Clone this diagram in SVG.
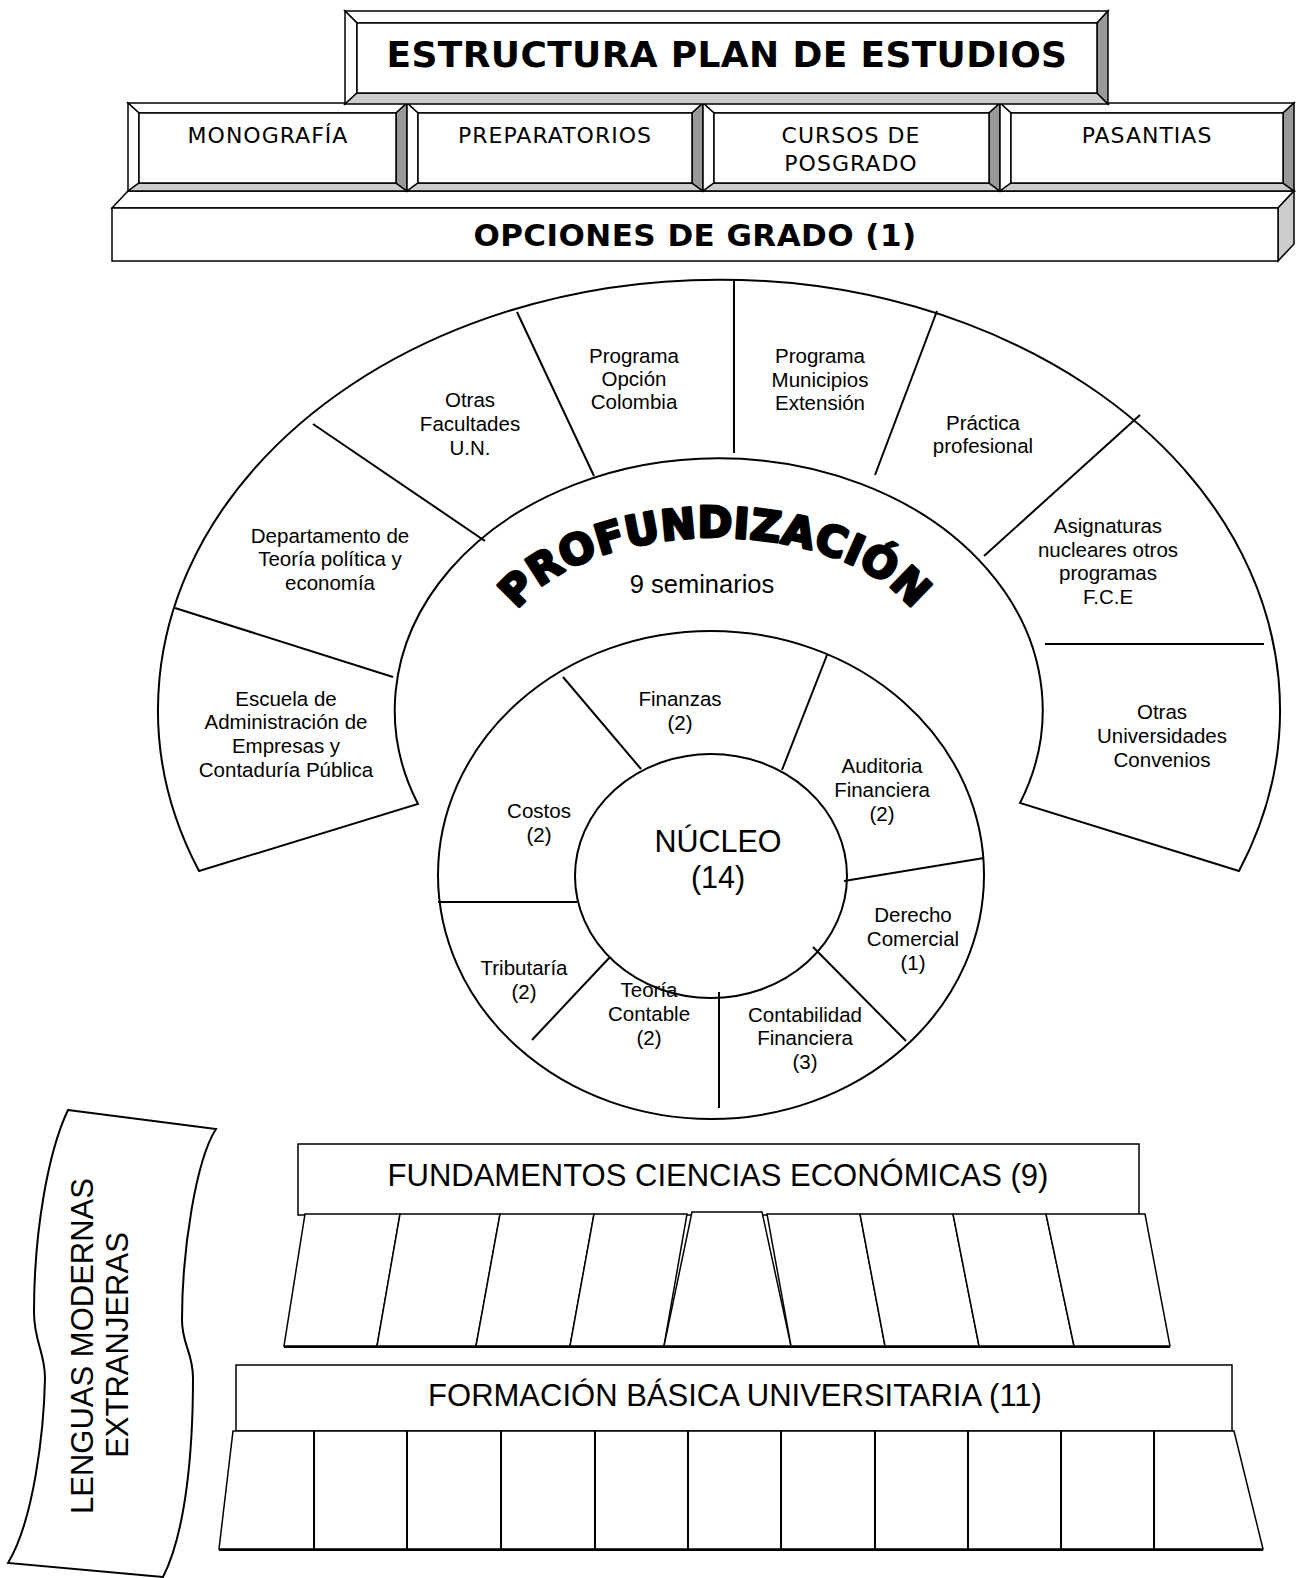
<svg xmlns="http://www.w3.org/2000/svg" width="1296" height="1578" viewBox="0 0 1296 1578">
<style>
.ln{fill:none;stroke:#000;stroke-width:2}
.sh{fill:#fff;stroke:#000;stroke-width:2}
.bv{stroke:#000;stroke-width:1.5;stroke-linejoin:miter}
.bw{fill:#fff}
.bl{fill:#cccccc}
.bd{fill:#999999}
.a{font-family:"Liberation Sans",Arial,sans-serif;font-size:20.5px;text-anchor:middle;fill:#000}
.v{font-family:"DejaVu Sans",Verdana,sans-serif;font-size:22px;letter-spacing:1px;text-anchor:middle;fill:#000}
.vb{font-family:"DejaVu Sans",Verdana,sans-serif;font-weight:bold;text-anchor:middle;fill:#000}
.big{font-family:"Liberation Sans",Arial,sans-serif;font-size:31px;text-anchor:middle;fill:#000}
.pil{fill:#fff;stroke:#000;stroke-width:1.5}
</style>
<defs>
<path id="arcP" d="M 516 612 A 214 118 0 0 1 914 612"/>
</defs>
<rect width="1296" height="1578" fill="#fff"/>

<!-- Opciones de grado -->
<g id="opciones">
<polygon class="bv bw" points="112,208 128,191 1294,191 1278,208"/>
<polygon class="bv bl" points="1278,208 1294,191 1294,244 1278,261"/>
<rect class="bv bw" x="112" y="208" width="1166" height="53"/>
<text class="vb" x="695" y="246" font-size="31" letter-spacing="0.45">OPCIONES DE GRADO (1)</text>
</g>

<g id="monografia">
<polygon class="bv bw" points="128,103 407,103 396,113 139,113"/>
<polygon class="bv bw" points="128,103 139,113 139,183 128,191"/>
<polygon class="bv bl" points="128,191 139,183 396,183 407,191"/>
<polygon class="bv bd" points="407,103 407,191 396,183 396,113"/>
<rect class="bv bw" x="139" y="113" width="257" height="70"/>
<text class="v" x="268" y="143">MONOGRAFÍA</text>
</g>
<g id="preparatorios">
<polygon class="bv bw" points="407,103 703,103 692,113 418,113"/>
<polygon class="bv bw" points="407,103 418,113 418,183 407,191"/>
<polygon class="bv bl" points="407,191 418,183 692,183 703,191"/>
<polygon class="bv bd" points="703,103 703,191 692,183 692,113"/>
<rect class="bv bw" x="418" y="113" width="274" height="70"/>
<text class="v" x="555" y="143">PREPARATORIOS</text>
</g>
<g id="cursos">
<polygon class="bv bw" points="703,103 1000,103 989,113 714,113"/>
<polygon class="bv bw" points="703,103 714,113 714,183 703,191"/>
<polygon class="bv bl" points="703,191 714,183 989,183 1000,191"/>
<polygon class="bv bd" points="1000,103 1000,191 989,183 989,113"/>
<rect class="bv bw" x="714" y="113" width="275" height="70"/>
<text class="v" x="851" y="143">CURSOS DE</text>
<text class="v" x="851" y="171">POSGRADO</text>
</g>
<g id="pasantias">
<polygon class="bv bw" points="1000,103 1294,103 1283,113 1011,113"/>
<polygon class="bv bw" points="1000,103 1011,113 1011,183 1000,191"/>
<polygon class="bv bl" points="1000,191 1011,183 1283,183 1294,191"/>
<polygon class="bv bd" points="1294,103 1294,191 1283,183 1283,113"/>
<rect class="bv bw" x="1011" y="113" width="272" height="70"/>
<text class="v" x="1147" y="143">PASANTIAS</text>
</g>

<g id="titulo">
<polygon class="bv bw" points="345,11 1108,11 1097,23 357,23"/>
<polygon class="bv bw" points="345,11 357,23 357,93 345,104"/>
<polygon class="bv bl" points="345,104 357,93 1097,93 1108,104"/>
<polygon class="bv bd" points="1108,11 1108,104 1097,93 1097,23"/>
<rect class="bv bw" x="357" y="23" width="740" height="70"/>
<text class="vb" x="727" y="67" font-size="36" letter-spacing="0.35">ESTRUCTURA PLAN DE ESTUDIOS</text>
</g>

<!-- Profundización ring -->
<g id="anillo-opciones">
<path class="sh" d="M 199 871 A 561 430 0 1 1 1239 871 L 1020 803 A 324 252 0 1 0 418 804 Z"/>
</g>

<g id="seminarios">
<ellipse class="sh" cx="711" cy="875" rx="273" ry="244"/>
</g>
<g id="nucleo">
<ellipse class="sh" cx="711" cy="876" rx="136" ry="122"/>
</g>

<g id="connectors">
<line class="ln" x1="175" y1="608" x2="393" y2="677"/>
<line class="ln" x1="313" y1="424" x2="485" y2="541"/>
<line class="ln" x1="517" y1="312" x2="594" y2="476"/>
<line class="ln" x1="734" y1="281" x2="734" y2="453"/>
<line class="ln" x1="937" y1="311" x2="875" y2="475"/>
<line class="ln" x1="1140" y1="415" x2="984" y2="556"/>
<line class="ln" x1="1045" y1="644" x2="1264" y2="644"/>
<line class="ln" x1="563" y1="677" x2="641" y2="769"/>
<line class="ln" x1="827" y1="655" x2="782" y2="770"/>
<line class="ln" x1="984" y1="858" x2="844" y2="881"/>
<line class="ln" x1="813" y1="947" x2="906" y2="1041"/>
<line class="ln" x1="719" y1="992" x2="719" y2="1108"/>
<line class="ln" x1="610" y1="957" x2="532" y2="1040"/>
<line class="ln" x1="438" y1="902" x2="577" y2="902"/>
</g>

<g id="labels-opciones">
<text class="a"><tspan x="286" y="706">Escuela de</tspan><tspan x="286" y="729">Administración de</tspan><tspan x="286" y="753">Empresas y</tspan><tspan x="286" y="777">Contaduría Pública</tspan></text>
<text class="a"><tspan x="330" y="543">Departamento de</tspan><tspan x="330" y="566">Teoría política y</tspan><tspan x="330" y="590">economía</tspan></text>
<text class="a"><tspan x="470" y="407">Otras</tspan><tspan x="470" y="431">Facultades</tspan><tspan x="470" y="455">U.N.</tspan></text>
<text class="a"><tspan x="634" y="363">Programa</tspan><tspan x="634" y="386">Opción</tspan><tspan x="634" y="409">Colombia</tspan></text>
<text class="a"><tspan x="820" y="363">Programa</tspan><tspan x="820" y="387">Municipios</tspan><tspan x="820" y="410">Extensión</tspan></text>
<text class="a"><tspan x="983" y="430">Práctica</tspan><tspan x="983" y="453">profesional</tspan></text>
<text class="a"><tspan x="1108" y="533">Asignaturas</tspan><tspan x="1108" y="557">nucleares otros</tspan><tspan x="1108" y="580">programas</tspan><tspan x="1108" y="604">F.C.E</tspan></text>
<text class="a"><tspan x="1162" y="719">Otras</tspan><tspan x="1162" y="743">Universidades</tspan><tspan x="1162" y="767">Convenios</tspan></text>
</g>

<g id="profundizacion">
<text class="vb" style="font-size:42px" letter-spacing="0.5" stroke="#000" stroke-width="2.8" stroke-linejoin="round"><textPath href="#arcP" startOffset="50%">PROFUNDIZACIÓN</textPath></text>
<text class="a" x="702" y="593" style="font-size:25.5px">9 seminarios</text>
</g>

<g id="labels-seminarios">
<text class="a"><tspan x="680" y="706">Finanzas</tspan><tspan x="680" y="730">(2)</tspan></text>
<text class="a"><tspan x="882" y="773">Auditoria</tspan><tspan x="882" y="797">Financiera</tspan><tspan x="882" y="821">(2)</tspan></text>
<text class="a"><tspan x="913" y="922">Derecho</tspan><tspan x="913" y="946">Comercial</tspan><tspan x="913" y="970">(1)</tspan></text>
<text class="a"><tspan x="805" y="1022">Contabilidad</tspan><tspan x="805" y="1045">Financiera</tspan><tspan x="805" y="1069">(3)</tspan></text>
<text class="a"><tspan x="649" y="997">Teoría</tspan><tspan x="649" y="1021">Contable</tspan><tspan x="649" y="1045">(2)</tspan></text>
<text class="a"><tspan x="524" y="975">Tributaría</tspan><tspan x="524" y="999">(2)</tspan></text>
<text class="a"><tspan x="539" y="818">Costos</tspan><tspan x="539" y="842">(2)</tspan></text>
<text class="a" style="font-size:30.5px"><tspan x="718" y="852">NÚCLEO</tspan><tspan x="718" y="888">(14)</tspan></text>
</g>

<!-- Lenguas -->
<g id="lenguas">
<path class="sh" d="M 68 1110 L 216 1129 C 196 1160 182 1250 182 1320 C 182 1345 193 1352 193 1378 C 193 1450 186 1532 163 1577 L 8 1563 C 34 1520 44 1430 45 1378 C 45 1352 34 1342 34 1312 C 34 1232 48 1152 68 1110 Z"/>
<text class="big" transform="translate(93,1346) rotate(-90)">LENGUAS MODERNAS</text>
<text class="big" transform="translate(128,1345) rotate(-90)">EXTRANJERAS</text>
</g>

<!-- Fundamentos -->
<g id="fundamentos">
<rect class="pil" x="298" y="1144" width="841" height="71"/>
<text class="big" x="718" y="1186">FUNDAMENTOS CIENCIAS ECONÓMICAS (9)</text>
<polygon class="pil" points="305,1214 400,1214 377,1346 284,1346"/>
<polygon class="pil" points="400,1214 500,1214 476,1346 377,1346"/>
<polygon class="pil" points="500,1214 594,1214 570,1346 476,1346"/>
<polygon class="pil" points="594,1214 687,1214 664,1346 570,1346"/>
<polygon class="pil" points="692,1212 762,1212 791,1346 664,1346"/>
<polygon class="pil" points="767,1214 860,1214 885,1346 791,1346"/>
<polygon class="pil" points="860,1214 953,1214 979,1346 885,1346"/>
<polygon class="pil" points="953,1214 1046,1214 1074,1346 979,1346"/>
<polygon class="pil" points="1046,1214 1145,1214 1170,1346 1074,1346"/>
<line class="ln" x1="284" y1="1347" x2="1170" y2="1347"/>
</g>

<!-- Formacion basica -->
<g id="formacion">
<rect class="pil" x="236" y="1365" width="996" height="66"/>
<text class="big" x="735" y="1406">FORMACIÓN BÁSICA UNIVERSITARIA (11)</text>
<polygon class="pil" points="233,1431 1234,1431 1263,1549 219,1549"/>
<g class="ln" stroke-width="1.5">
<line x1="314" y1="1431" x2="314" y2="1549"/>
<line x1="407" y1="1431" x2="407" y2="1549"/>
<line x1="501" y1="1431" x2="501" y2="1549"/>
<line x1="595" y1="1431" x2="595" y2="1549"/>
<line x1="688" y1="1431" x2="688" y2="1549"/>
<line x1="781" y1="1431" x2="781" y2="1549"/>
<line x1="875" y1="1431" x2="875" y2="1549"/>
<line x1="968" y1="1431" x2="968" y2="1549"/>
<line x1="1061" y1="1431" x2="1061" y2="1549"/>
<line x1="1154" y1="1431" x2="1154" y2="1549"/>
</g>
<line class="ln" x1="219" y1="1550" x2="1263" y2="1550"/>
</g>
</svg>
